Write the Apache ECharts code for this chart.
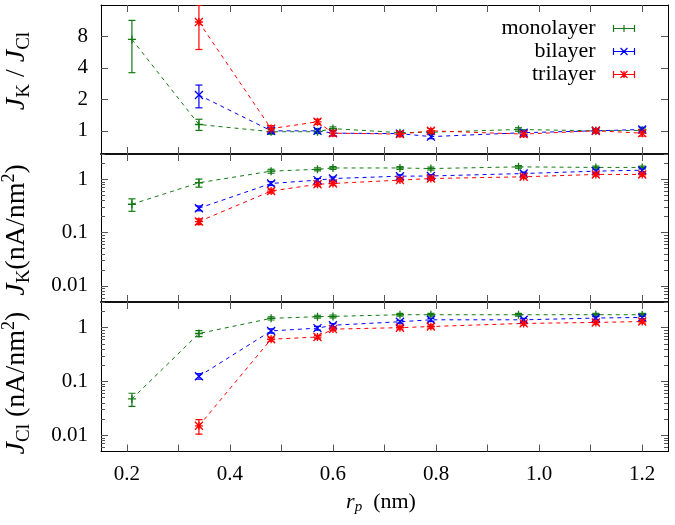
<!DOCTYPE html>
<html><head><meta charset="utf-8">
<script src="https://cdn.jsdelivr.net/npm/echarts@6/dist/echarts.min.js"></script>
<style>html,body{margin:0;padding:0;background:#fff}#c{width:675px;height:525px}</style>
</head><body><div id="c"></div>
<script>
// ---------- data ----------
const layers = ['monolayer', 'bilayer', 'trilayer'];
const xMono  = [0.21, 0.34, 0.48, 0.57, 0.60, 0.73, 0.79, 0.96, 1.11, 1.20];
const xMulti = [0.34, 0.48, 0.57, 0.60, 0.73, 0.79, 0.97, 1.11, 1.20];

// J_K / J_Cl
const ratioMono    = [7.5, 1.15, 0.98, 0.98, 1.05, 0.96, 0.97, 1.03, 1.00, 1.01];
const ratioMonoErr = [3.9, 0.14, 0.05, 0.04, 0.04, 0.03, 0.03, 0.04, 0.03, 0.03];
const ratioBi      = [2.2, 1.00, 1.00, 0.95, 0.94, 0.88, 0.96, 1.00, 1.03];
const ratioBiErr   = [0.54, 0.06, 0.05, 0.05, 0.04, 0.04, 0.04, 0.04, 0.05];
const ratioTri     = [11.0, 1.05, 1.22, 0.95, 0.93, 1.00, 0.93, 1.00, 0.95];
const ratioTriErr  = [5.0, 0.07, 0.07, 0.06, 0.05, 0.05, 0.05, 0.05, 0.06];

// J_K (nA/nm^2)
const jkMono    = [0.342, 0.865, 1.43, 1.55, 1.64, 1.64, 1.60, 1.72, 1.68, 1.68];
const jkMonoErr = [0.09, 0.15, 0.12, 0.10, 0.10, 0.10, 0.10, 0.10, 0.10, 0.10];
const jkBi      = [0.288, 0.84, 0.97, 1.04, 1.15, 1.16, 1.29, 1.43, 1.49];
const jkBiErr   = [0.03, 0.07, 0.07, 0.07, 0.07, 0.07, 0.08, 0.09, 0.09];
const jkTri     = [0.162, 0.605, 0.81, 0.84, 0.97, 1.04, 1.12, 1.24, 1.24];
const jkTriErr  = [0.02, 0.05, 0.06, 0.06, 0.06, 0.07, 0.07, 0.08, 0.08];

// J_Cl (nA/nm^2)
const jclMono    = [0.0475, 0.78, 1.49, 1.60, 1.62, 1.74, 1.74, 1.74, 1.74, 1.74];
const jclMonoErr = [0.013, 0.10, 0.10, 0.10, 0.10, 0.10, 0.10, 0.10, 0.10, 0.10];
const jclBi      = [0.125, 0.87, 0.98, 1.11, 1.29, 1.40, 1.40, 1.51, 1.55];
const jclBiErr   = [0.015, 0.08, 0.08, 0.08, 0.08, 0.09, 0.09, 0.09, 0.09];
const jclTri     = [0.015, 0.61, 0.67, 0.94, 1.00, 1.05, 1.20, 1.25, 1.30];
const jclTriErr  = [0.0045, 0.05, 0.05, 0.06, 0.06, 0.07, 0.08, 0.08, 0.08];

// ticks
const xTickValues  = [0.2, 0.3, 0.4, 0.5, 0.6, 0.7, 0.8, 0.9, 1.0, 1.1, 1.2];
const xLabelValues = [0.2, 0.4, 0.6, 0.8, 1.0, 1.2];
const ratioTicks   = [1, 2, 4, 8];
const currentTicks = [0.01, 0.1, 1];
const currentMinorTicks = [0.006, 0.007, 0.008, 0.009, 0.02, 0.03, 0.04, 0.05, 0.06, 0.07, 0.08, 0.09,
                           0.2, 0.3, 0.4, 0.5, 0.6, 0.7, 0.8, 0.9, 2, 3];

// ---------- styling ----------
const colors = ['#137a13', '#0000ff', '#ff0000'];
const symbols = [
  'path://M0,5L10,5M5,0L5,10',
  'path://M0,0L10,10M10,0L0,10',
  'path://M0,5L10,5M5,0L5,10M0,0L10,10M10,0L0,10'
];
const legendIcons = [
  'path://M0,4L24,4M0,0L0,8M24,0L24,8M8,4L16,4M12,0L12,8',
  'path://M0,4L24,4M0,0L0,8M24,0L24,8M8,0L16,8M16,0L8,8',
  'path://M0,4L24,4M0,0L0,8M24,0L24,8M8,0L16,8M16,0L8,8M12,0L12,8'
];
const FONT = "'Liberation Serif', 'Times New Roman', 'DejaVu Serif', serif";

const panels = [
  {ys: [ratioMono, ratioBi, ratioTri], es: [ratioMonoErr, ratioBiErr, ratioTriErr],
   log: 2, min: 0.6, max: 16, ticks: ratioTicks, minor: null},
  {ys: [jkMono, jkBi, jkTri], es: [jkMonoErr, jkBiErr, jkTriErr],
   log: 10, min: 0.005, max: 3, ticks: currentTicks, minor: currentMinorTicks},
  {ys: [jclMono, jclBi, jclTri], es: [jclMonoErr, jclBiErr, jclTriErr],
   log: 10, min: 0.005, max: 3, ticks: currentTicks, minor: currentMinorTicks}
];
const grids = [
  {left: 101, right: 7, top: 5, height: 149},
  {left: 101, right: 7, top: 154, height: 148},
  {left: 101, right: 7, top: 302, height: 149.5}
].map(g => Object.assign(g, {containLabel: false, outerBoundsMode: 'none'}));

const lineC = '#000';
const xAxes = [], yAxes = [], series = [];

function fmtY(v) { return String(+v.toPrecision(3)); }

panels.forEach((p, gi) => {
  const xBottomIdx = xAxes.length;
  ['bottom', 'top'].forEach(pos => {
    const sep = (pos === 'top' && gi > 0);
    xAxes.push({
      type: 'value', gridIndex: gi, position: pos, min: 0.15, max: 1.25,
      axisLine: {show: true, onZero: false, lineStyle: {color: sep ? '#111' : lineC, width: sep ? 2 : 1}},
      axisTick: {show: true, inside: true, length: 7, customValues: xTickValues, lineStyle: {color: '#555', width: 1}},
      axisLabel: {show: gi === 2 && pos === 'bottom', customValues: xLabelValues, margin: 12,
        formatter: v => (+v).toFixed(1), fontFamily: FONT, fontSize: 21, color: '#000'},
      splitLine: {show: false}
    });
  });
  const yLeftIdx = yAxes.length;
  ['left', 'right'].forEach(pos => {
    yAxes.push({
      type: 'log', logBase: p.log, gridIndex: gi, position: pos, min: p.min, max: p.max,
      axisLine: {show: true, onZero: false, lineStyle: {color: lineC, width: 1}},
      axisTick: {show: true, inside: true, length: 7, customValues: p.ticks, lineStyle: {color: '#555', width: 1}},
      axisLabel: {show: pos === 'left', customValues: p.ticks, margin: 13, formatter: fmtY,
        fontFamily: FONT, fontSize: 21, color: '#000'},
      splitLine: {show: false}, minorTick: {show: false}
    });
  });
  if (p.minor) {
    ['left', 'right'].forEach(pos => {
      yAxes.push({
        type: 'log', logBase: p.log, gridIndex: gi, position: pos, min: p.min, max: p.max,
        axisLine: {show: false, onZero: false},
        axisTick: {show: true, inside: true, length: 4, customValues: p.minor, lineStyle: {color: '#555', width: 1}},
        axisLabel: {show: false}, splitLine: {show: false}
      });
    });
  }
  layers.forEach((name, li) => {
    const xs = li === 0 ? xMono : xMulti;
    const ys = p.ys[li], es = p.es[li], c = colors[li];
    series.push({
      type: 'line', name: name, xAxisIndex: xBottomIdx, yAxisIndex: yLeftIdx,
      data: xs.map((x, i) => [x, ys[i]]),
      symbol: symbols[li], symbolSize: 8, showSymbol: true,
      lineStyle: {color: c, width: 1, type: [4, 4]},
      itemStyle: {color: c, borderColor: c, borderWidth: 1.3},
      emphasis: {disabled: true}, z: 3, clip: true
    });
    series.push({
      type: 'custom', xAxisIndex: xBottomIdx, yAxisIndex: yLeftIdx, silent: true, z: 2, clip: true,
      data: xs.map((x, i) => [x, ys[i], es[i]]),
      encode: {x: 0, y: 1},
      renderItem: (params, api) => {
        const x = api.value(0), y = api.value(1), e = api.value(2);
        const a = api.coord([x, Math.max(y - e, 1e-6)]);
        const b = api.coord([x, y + e]);
        const h = 3.5;
        const st = {stroke: c, lineWidth: 1.2, fill: null};
        return {type: 'group', children: [
          {type: 'line', shape: {x1: a[0], y1: a[1], x2: b[0], y2: b[1]}, style: st},
          {type: 'line', shape: {x1: a[0] - h, y1: a[1], x2: a[0] + h, y2: a[1]}, style: st},
          {type: 'line', shape: {x1: b[0] - h, y1: b[1], x2: b[0] + h, y2: b[1]}, style: st}
        ]};
      }
    });
  });
});

const rich = {
  i: {fontFamily: FONT, fontStyle: 'italic', fontSize: 28, lineHeight: 33, fill: '#000'},
  r: {fontFamily: FONT, fontSize: 28, lineHeight: 33, fill: '#000'},
  s: {fontFamily: FONT, fontSize: 19, lineHeight: 15, verticalAlign: 'bottom', fill: '#000'},
  si: {fontFamily: FONT, fontStyle: 'italic', fontSize: 15, lineHeight: 13, verticalAlign: 'bottom', fill: '#000'},
  p: {fontFamily: FONT, fontSize: 18, lineHeight: 15, verticalAlign: 'top', fill: '#000'},
  xr: {fontFamily: FONT, fontSize: 22, lineHeight: 26, fill: '#000'},
  xi: {fontFamily: FONT, fontStyle: 'italic', fontSize: 22, lineHeight: 26, fill: '#000'}
};
function label(x, y, text, rot) {
  return {type: 'text', x: x, y: y, rotation: rot, silent: true,
    style: {text: text, rich: rich, align: 'center', verticalAlign: 'middle',
      textAlign: 'center', textVerticalAlign: 'middle', fill: '#000', fontFamily: FONT}};
}

const chart = echarts.init(document.getElementById('c'), null, {renderer: 'canvas'});
chart.setOption({
  animation: false,
  backgroundColor: '#fff',
  textStyle: {fontFamily: FONT},
  grid: grids,
  xAxis: xAxes,
  yAxis: yAxes,
  series: series,
  legend: {
    right: 33, top: 12, orient: 'vertical', align: 'right', selectedMode: false,
    itemWidth: 23, itemHeight: 7, itemGap: 0,
    textStyle: {fontFamily: FONT, fontSize: 22, color: '#000', lineHeight: 23, padding: [0, 12, 0, 0]},
    data: layers.map((n, i) => ({name: n, icon: legendIcons[i],
      itemStyle: {color: 'none', borderColor: colors[i], borderWidth: 1.2}}))
  },
  graphic: [
    label(17, 71, '{i|J}{s|K}{r| / }{i|J}{s|Cl}', Math.PI / 2),
    label(17, 230, '{i|J}{s|K}{r|(nA/nm}{p|2}{r|)}', Math.PI / 2),
    label(17, 383, '{i|J}{s|Cl}{r| (nA/nm}{p|2}{r|)}', Math.PI / 2),
    label(381, 502, '{xi|r}{si|p}{xr|  (nm)}', 0)
  ]
});
</script>
</body></html>
